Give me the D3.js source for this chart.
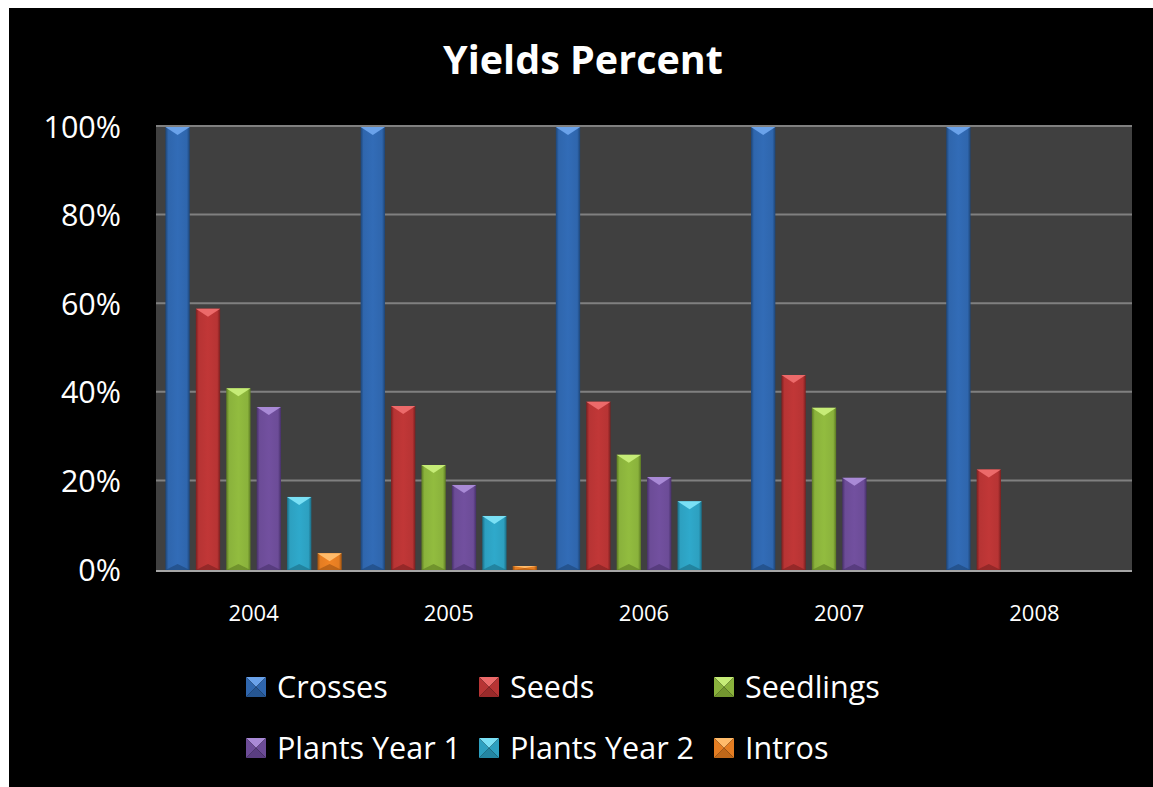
<!DOCTYPE html>
<html>
<head>
<meta charset="utf-8">
<script src="https://cdn.jsdelivr.net/npm/d3@7"></script>
<style>
  html, body { margin: 0; padding: 0; background: #fff; }
  svg { display: block; }
  text { font-family: "Open Sans", Lato, sans-serif; fill: #fff; }
</style>
</head>
<body>
<svg id="chart"></svg>
<script>
const years = ["2004", "2005", "2006", "2007", "2008"];
const seriesNames = ["Crosses", "Seeds", "Seedlings", "Plants Year 1", "Plants Year 2", "Intros"];
const crosses = [100, 100, 100, 100, 100];
const seeds = [59, 37, 38, 44, 22.7];
const seedlings = [41, 23.7, 26, 36.6, null];
const plantsYear1 = [36.8, 19.2, 21, 20.8, null];
const plantsYear2 = [16.5, 12.2, 15.5, null, null];
const intros = [3.8, 0.9, null, null, null];
const yTicks = [0, 20, 40, 60, 80, 100];

const seriesValues = [crosses, seeds, seedlings, plantsYear1, plantsYear2, intros];
// base, light, dark per series
const palette = [
	["#2f66ad", "#6aa2ea", "#1d4577"],
	["#b73434", "#ec6a6a", "#7a1f1f"],
	["#8ab23c", "#c6ec77", "#5b7a22"],
	["#6c4c97", "#a98ad6", "#47306a"],
	["#2da0c0", "#7ae0f5", "#1a6c84"],
	["#e47d22", "#ffbb6a", "#9c5210"],
];

const W = 1153, H = 787;
const svg = d3.select("#chart").attr("width", W).attr("height", H);

// white strip top/left, rest black
svg.append("rect").attr("x", 9).attr("y", 8).attr("width", W - 9).attr("height", H - 8).attr("fill", "#000");

const plot = { left: 156, right: 1132, top: 127, bottom: 570 };

const y = d3.scaleLinear().domain([0, 100]).range([plot.bottom, plot.top]);
const x0 = d3.scaleBand().domain(years).range([plot.left, plot.right]);
const x1 = d3.scaleBand().domain(seriesNames).range([0, x0.bandwidth()])
	.paddingInner(0.2).paddingOuter(0.31);

const defs = svg.append("defs");
palette.forEach((c, i) => {
	const g = defs.append("linearGradient").attr("id", "bar" + i)
		.attr("x1", "0").attr("x2", "1").attr("y1", "0").attr("y2", "0");
	g.append("stop").attr("offset", "0").attr("stop-color", c[2]);
	g.append("stop").attr("offset", "0.12").attr("stop-color", c[0]);
	g.append("stop").attr("offset", "0.5").attr("stop-color", d3.color(c[0]).brighter(0.15));
	g.append("stop").attr("offset", "0.88").attr("stop-color", c[0]);
	g.append("stop").attr("offset", "1").attr("stop-color", c[2]);
});

// plot background
svg.append("rect")
	.attr("x", plot.left).attr("y", plot.top - 1)
	.attr("width", plot.right - plot.left).attr("height", plot.bottom - plot.top + 1)
	.attr("fill", "#404040");

// gridlines
svg.append("g").selectAll("line")
	.data(yTicks.filter((d) => d > 0))
	.join("line")
	.attr("x1", plot.left).attr("x2", plot.right)
	.attr("y1", (d) => y(d) - 1).attr("y2", (d) => y(d) - 1)
	.attr("stroke", "#808080").attr("stroke-width", 2);

// y labels
svg.append("g").selectAll("text")
	.data(yTicks)
	.join("text")
	.attr("x", 121).attr("y", (d) => y(d))
	.attr("dy", "0.35em")
	.attr("text-anchor", "end")
	.attr("font-size", 30.5)
	.text((d) => d + "%");

// bars
const bars = [];
years.forEach((yr, j) => {
	seriesNames.forEach((s, i) => {
		const v = seriesValues[i][j];
		if (v != null) bars.push({ yr, s, i, v });
	});
});

const barG = svg.append("g").selectAll("g")
	.data(bars)
	.join("g")
	.attr("transform", (d) => `translate(${x0(d.yr) + x1(d.s)},0)`);

const bw = x1.bandwidth();
barG.append("rect")
	.attr("x", 0).attr("y", (d) => y(d.v))
	.attr("width", bw).attr("height", (d) => plot.bottom - y(d.v))
	.attr("fill", (d) => `url(#bar${d.i})`);

// top bevel triangle
barG.append("path")
	.attr("d", (d) => {
		const t = y(d.v);
		const h = Math.min(8, (plot.bottom - t) / 2);
		return `M0,${t}L${bw},${t}L${bw / 2},${t + h}Z`;
	})
	.attr("fill", (d) => palette[d.i][1]);

// bottom bevel
barG.append("path")
	.attr("d", (d) => {
		const h = Math.min(6, (plot.bottom - y(d.v)) / 2);
		return `M0,${plot.bottom}L${bw},${plot.bottom}L${bw / 2},${plot.bottom - h}Z`;
	})
	.attr("fill", (d) => palette[d.i][2])
	.attr("opacity", 0.6);

// x axis line
svg.append("line")
	.attr("x1", plot.left).attr("x2", plot.right)
	.attr("y1", plot.bottom + 1).attr("y2", plot.bottom + 1)
	.attr("stroke", "#a6a6a6").attr("stroke-width", 2);

// x labels
svg.append("g").selectAll("text")
	.data(years)
	.join("text")
	.attr("x", (d) => x0(d) + x0.bandwidth() / 2)
	.attr("y", 621)
	.attr("text-anchor", "middle")
	.attr("font-size", 22)
	.text((d) => d);

// title
svg.append("text")
	.attr("x", 583).attr("y", 74)
	.attr("text-anchor", "middle")
	.attr("font-size", 39.5)
	.attr("font-weight", "bold")
	.text("Yields Percent");

// legend
const legCols = [246, 479, 714];
const legRows = [687, 748];
const legend = svg.append("g").selectAll("g")
	.data(seriesNames)
	.join("g")
	.attr("transform", (d, i) => `translate(${legCols[i % 3]},${legRows[Math.floor(i / 3)]})`);

const m = 20;
legend.each(function (d, i) {
	const g = d3.select(this);
	const c = palette[i];
	const h = m / 2;
	// pyramid style marker: top, right, bottom, left facets
	g.append("path").attr("d", `M0,${-h}L${m},${-h}L${h},0Z`).attr("fill", c[1]);
	g.append("path").attr("d", `M${m},${-h}L${m},${h}L${h},0Z`).attr("fill", c[0]);
	g.append("path").attr("d", `M0,${h}L${m},${h}L${h},0Z`).attr("fill", d3.interpolateRgb(c[0], c[2])(0.5));
	g.append("path").attr("d", `M0,${-h}L0,${h}L${h},0Z`).attr("fill", c[0]);
	g.append("text")
		.attr("x", 31).attr("y", 0)
		.attr("dy", "0.35em")
		.attr("font-size", 30.5)
		.text(d);
});
</script>
</body>
</html>
